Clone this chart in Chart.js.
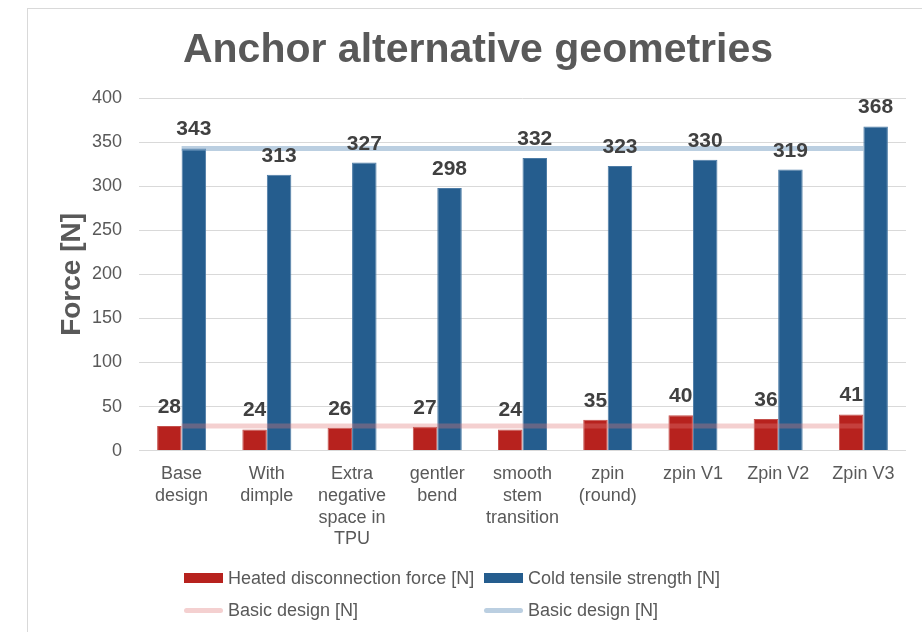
<!DOCTYPE html>
<html>
<head>
<meta charset="utf-8">
<script src="https://cdn.jsdelivr.net/npm/chart.js@4.4.1/dist/chart.umd.min.js"></script>
<style>
  body { margin: 0; width: 922px; height: 632px; overflow: hidden; background: #fff;
         font-family: "Liberation Sans", Arial, sans-serif; }
  #frame { position: absolute; left: 27px; top: 8px; width: 900px; height: 700px;
           border: 1px solid #d9d9d9; }
  #chart { position: absolute; left: 0; top: 0; }
  #legend { position: absolute; left: 184px; top: 562px; width: 600px;
            display: grid; grid-template-columns: 300px 300px; grid-auto-rows: 32px;
            font-size: 18px; color: #595959; }
  .item { display: flex; align-items: center; white-space: nowrap; }
  .sym { width: 39px; margin-right: 5px; flex: none; }
</style>
</head>
<body>
<div id="frame">
  <canvas id="chart" width="900" height="560"></canvas>
</div>
<div id="legend"></div>
<script>
var categories = [
  ['Base', 'design'],
  ['With', 'dimple'],
  ['Extra', 'negative', 'space in', 'TPU'],
  ['gentler', 'bend'],
  ['smooth', 'stem', 'transition'],
  ['zpin', '(round)'],
  'zpin V1',
  'Zpin V2',
  'Zpin V3'
];
var heated = [28, 24, 26, 27, 24, 35, 40, 36, 41];
var cold = [343, 313, 327, 298, 332, 323, 330, 319, 368];
// reference levels of the base design, one point per category
var basicHeated = [28, 28, 28, 28, 28, 28, 28, 28, 28];
var basicCold = [343, 343, 343, 343, 343, 343, 343, 343, 343];
var yTicks = [0, 50, 100, 150, 200, 250, 300, 350, 400];

var grey = '#595959';
var font = '"Liberation Sans", Arial, sans-serif';

// value labels above each bar
var barValues = {
  id: 'barValues',
  afterDatasetsDraw: function(chart) {
    var ctx = chart.ctx;
    ctx.save();
    ctx.font = 'bold 21px ' + font;
    ctx.fillStyle = '#404040';
    ctx.textAlign = 'center';
    ctx.textBaseline = 'alphabetic';
    chart.data.datasets.forEach(function(ds, i) {
      if (ds.type !== 'bar') return;
      chart.getDatasetMeta(i).data.forEach(function(bar, j) {
        ctx.fillText(ds.data[j], bar.x, bar.y - 13);
      });
    });
    ctx.restore();
  }
};

var chart = new Chart(document.getElementById('chart'), {
  data: {
    labels: categories,
    datasets: [{
      type: 'bar',
      label: 'Heated disconnection force [N]',
      data: heated,
      backgroundColor: '#b7221e',
      borderColor: '#c4504c',
      borderWidth: 1,
      order: 1,
      categoryPercentage: 0.575,
      barPercentage: 1
    }, {
      type: 'bar',
      label: 'Cold tensile strength [N]',
      data: cold,
      backgroundColor: '#255d8e',
      borderColor: '#4d7ca6',
      borderWidth: 1,
      order: 1,
      categoryPercentage: 0.575,
      barPercentage: 1
    }, {
      type: 'line',
      label: 'Basic design [N]',
      data: basicHeated,
      borderColor: 'rgba(224, 120, 120, 0.35)',
      borderWidth: 5,
      pointRadius: 0,
      order: 0
    }, {
      type: 'line',
      label: 'Basic design [N]',
      data: basicCold,
      borderColor: 'rgba(120, 160, 195, 0.5)',
      borderWidth: 5,
      pointRadius: 0,
      order: 0
    }]
  },
  options: {
    responsive: false,
    animation: false,
    layout: { padding: { left: 0, right: 0, top: 0, bottom: 14 } },
    plugins: {
      legend: { display: false },
      tooltip: { enabled: false },
      title: {
        display: true,
        text: 'Anchor alternative geometries',
        color: grey,
        font: { family: font, size: 41, weight: 'bold' },
        padding: { top: 17, bottom: 23 }
      }
    },
    scales: {
      x: {
        grid: { display: false },
        border: { display: false },
        ticks: {
          color: grey,
          font: { family: font, size: 18, lineHeight: 1.2 },
          padding: 5,
          maxRotation: 0,
          autoSkip: false
        }
      },
      y: {
        min: 0,
        max: 400,
        afterFit: function(scale) { scale.width = 111; },
        afterBuildTicks: function(scale) {
          scale.ticks = yTicks.map(function(v) { return { value: v }; });
        },
        grid: { color: '#d9d9d9', lineWidth: 1, drawTicks: false },
        border: { display: false },
        ticks: {
          color: grey,
          font: { family: font, size: 18 },
          padding: 17
        },
        title: {
          display: true,
          text: 'Force [N]',
          color: grey,
          font: { family: font, size: 28, weight: 'bold' },
          padding: { top: 27, bottom: 0 }
        }
      },
      // empty right-hand margin so the title stays centred on the whole frame
      gap: {
        position: 'right',
        afterFit: function(scale) { scale.width = 22; },
        grid: { display: false },
        border: { display: false },
        ticks: { display: false }
      }
    }
  },
  plugins: [barValues]
});

// two-column legend built from the datasets
var legend = document.getElementById('legend');
chart.data.datasets.forEach(function(ds) {
  var item = document.createElement('div');
  item.className = 'item';
  var sym = document.createElement('span');
  sym.className = 'sym';
  if (ds.type === 'bar') {
    sym.style.height = '10px';
    sym.style.background = ds.backgroundColor;
  } else {
    sym.style.height = '5px';
    sym.style.borderRadius = '3px';
    sym.style.background = ds.borderColor;
  }
  var txt = document.createElement('span');
  txt.textContent = ds.label;
  item.appendChild(sym);
  item.appendChild(txt);
  legend.appendChild(item);
});
</script>
</body>
</html>
